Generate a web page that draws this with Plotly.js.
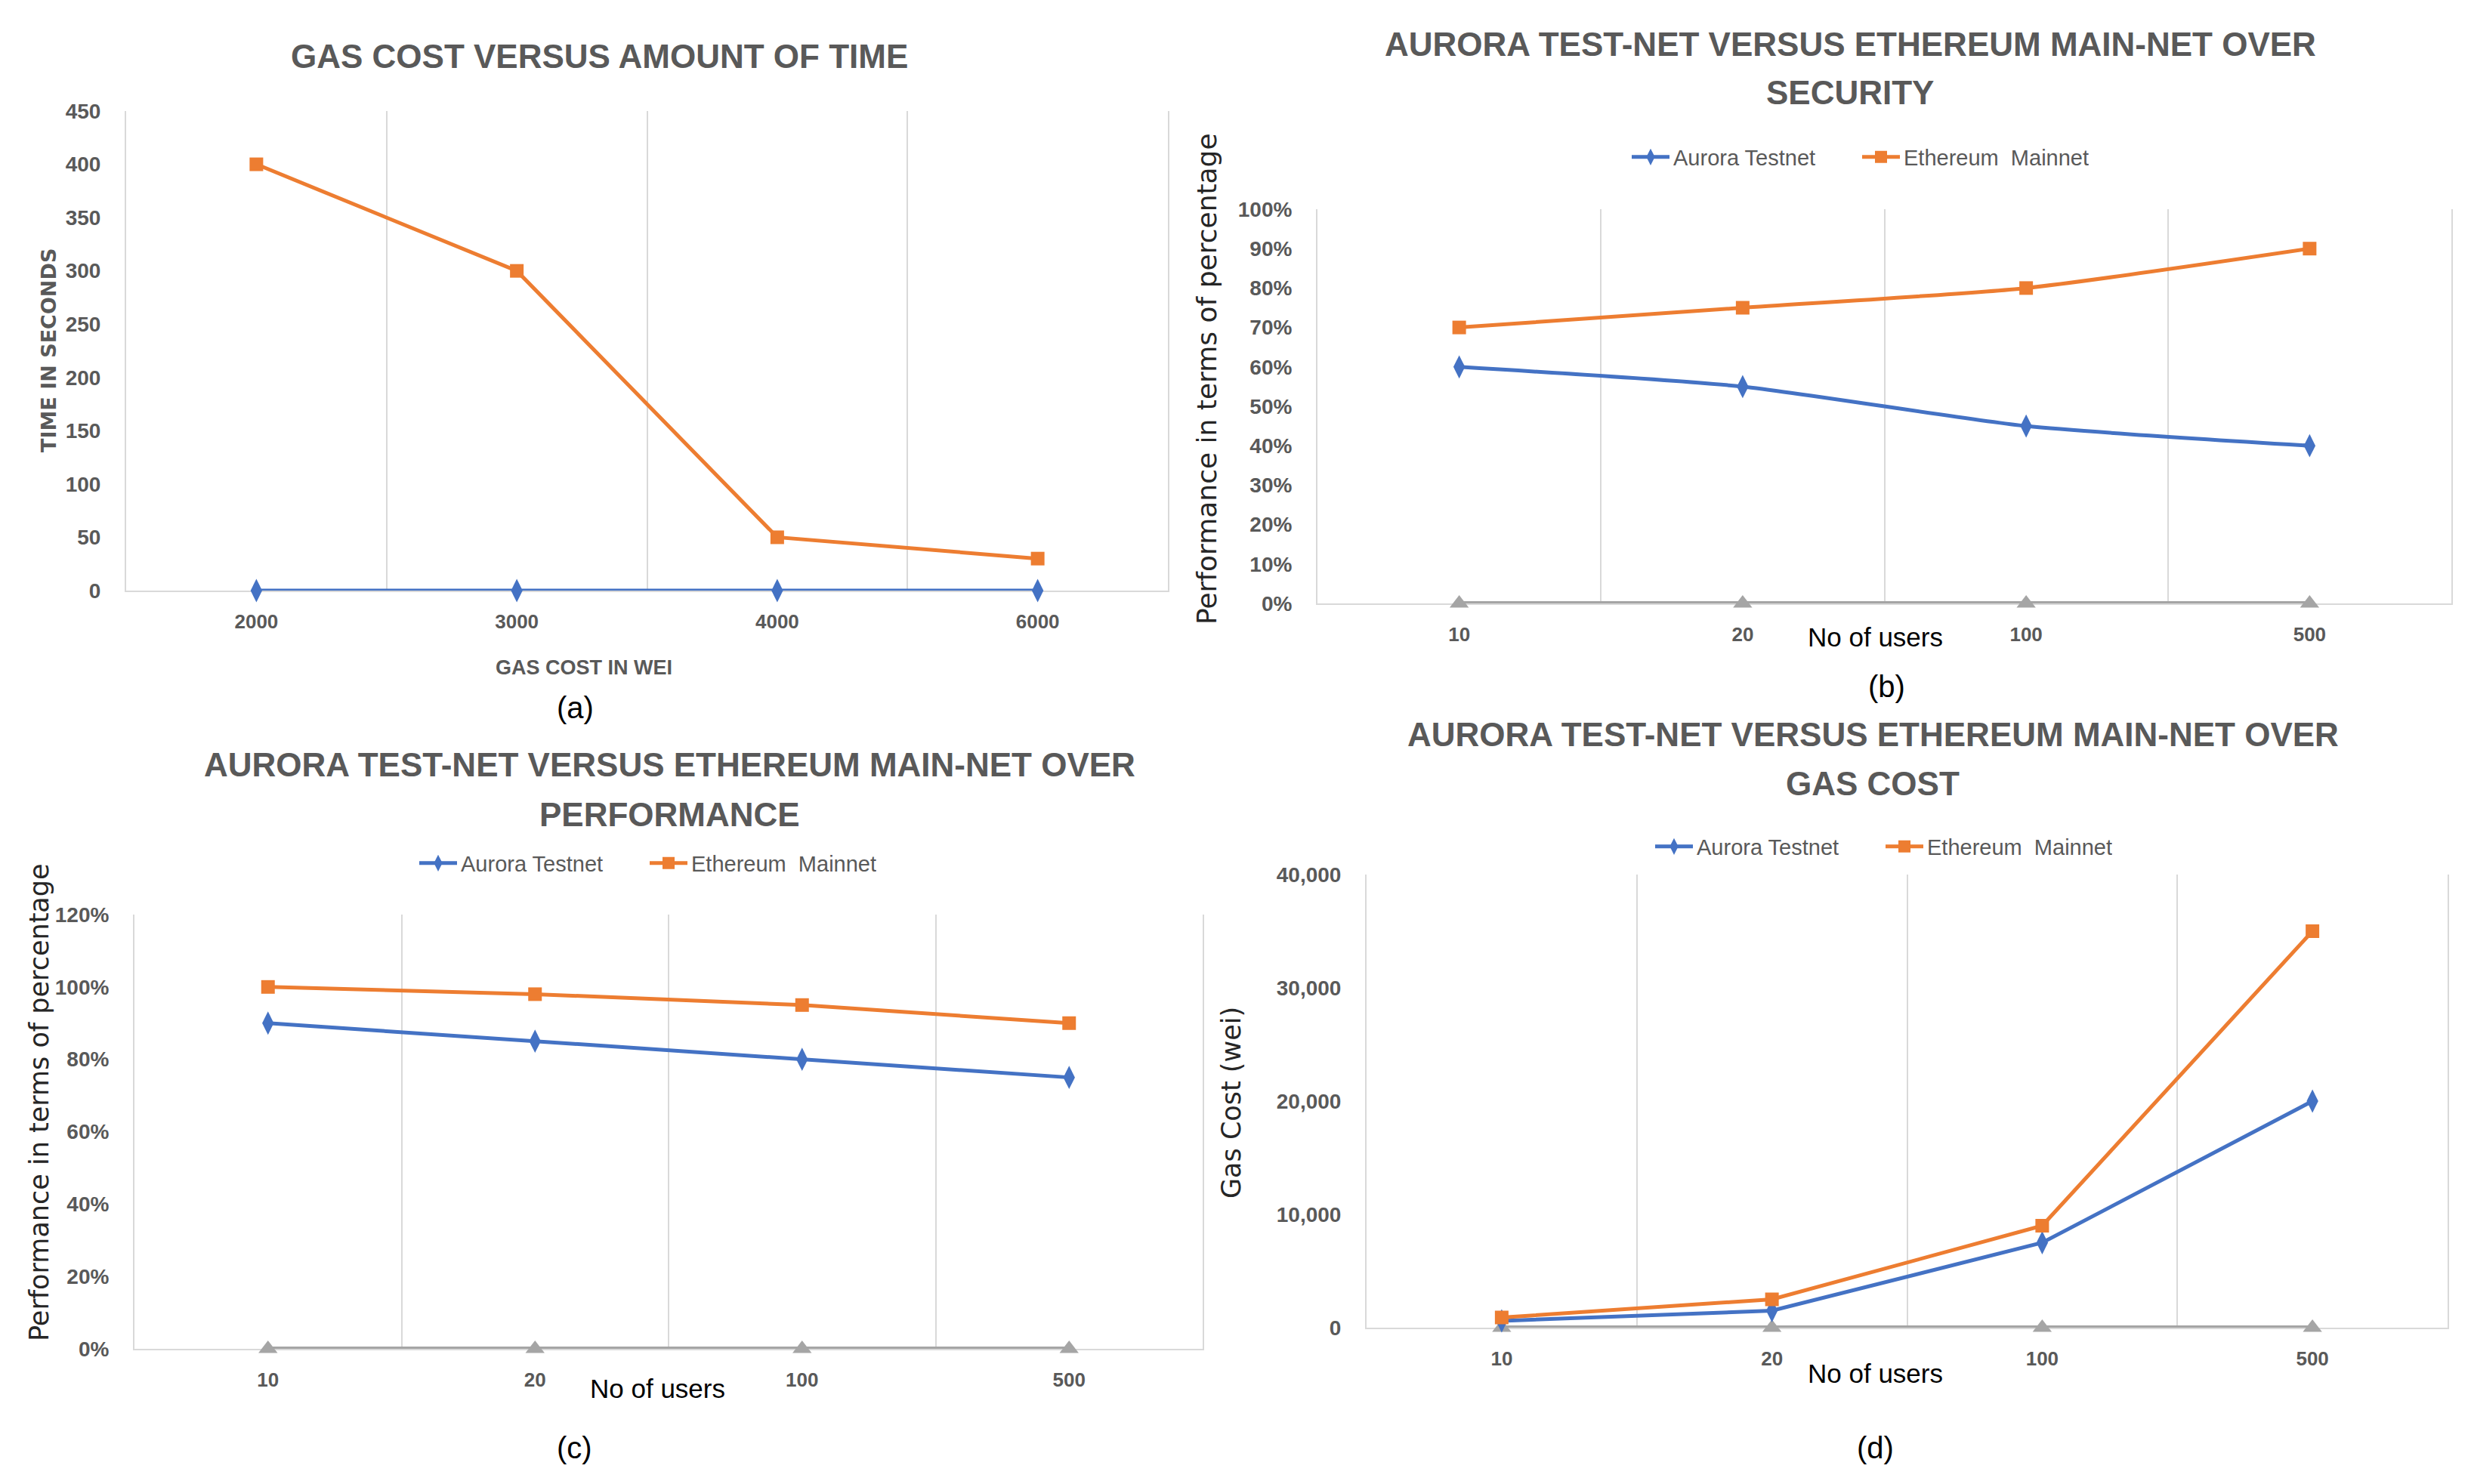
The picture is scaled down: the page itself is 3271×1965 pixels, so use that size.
<!DOCTYPE html>
<html><head><meta charset="utf-8">
<script src="https://cdn.plot.ly/plotly-3.0.1.min.js"></script>
<style>html,body{margin:0;padding:0;background:#fff}</style>
</head><body>
<div id="chart" style="width:3271px;height:1965px"></div>
<script>
// ---------- data ----------
const gasCostCategories = ['2000', '3000', '4000', '6000'];
const timeAurora = [0, 0, 0, 0];
const timeEthereum = [400, 300, 50, 30];

const userCategories = ['10', '20', '100', '500'];
const securityAurora = [60, 55, 45, 40];
const securityEthereum = [70, 75, 80, 90];
const securityBaseline = [0, 0, 0, 0];

const performanceAurora = [90, 85, 80, 75];
const performanceEthereum = [100, 98, 95, 90];
const performanceBaseline = [0, 0, 0, 0];

const gasAurora = [600, 1500, 7500, 20000];
const gasEthereum = [900, 2500, 9000, 35000];
const gasBaseline = [0, 0, 0, 0];

const seriesNames = ['Aurora Testnet', 'Ethereum  Mainnet'];

// ---------- style ----------
const W = 3271, H = 1965;
const fx = p => p / W;
const fy = p => 1 - p / H;
const BLUE = '#4472C4', ORANGE = '#ED7D31', GREY = '#A5A5A5', GRID = '#D9D9D9', TXT = '#595959';
const SANS = 'Liberation Sans, Arial, sans-serif';
const VERD = 'DejaVu Sans, Verdana, sans-serif';

function blueTrace(x, y, xa, ya, lg, show, shape) {
  return {x: x, y: y, xaxis: xa, yaxis: ya, type: 'scatter', mode: 'lines+markers',
    name: seriesNames[0], legend: lg, showlegend: show, cliponaxis: false,
    line: {color: BLUE, width: 5, shape: shape || 'linear', smoothing: 0.6},
    marker: {symbol: 'diamond-tall', size: 22, color: BLUE}};
}
function orangeTrace(x, y, xa, ya, lg, show, shape) {
  return {x: x, y: y, xaxis: xa, yaxis: ya, type: 'scatter', mode: 'lines+markers',
    name: seriesNames[1], legend: lg, showlegend: show, cliponaxis: false,
    line: {color: ORANGE, width: 5, shape: shape || 'linear', smoothing: 0.6},
    marker: {symbol: 'square', size: 18, color: ORANGE}};
}
function greyTrace(x, y, xa, ya) {
  return {x: x, y: y, xaxis: xa, yaxis: ya, type: 'scatter', mode: 'lines+markers',
    name: 'Series3', showlegend: false, cliponaxis: false,
    line: {color: GREY, width: 6},
    marker: {symbol: 'triangle-up', size: 22, color: GREY}};
}

const traces = [
  blueTrace(gasCostCategories, timeAurora, 'x', 'y', 'legend', false),
  orangeTrace(gasCostCategories, timeEthereum, 'x', 'y', 'legend', false),

  greyTrace(userCategories, securityBaseline, 'x2', 'y2'),
  blueTrace(userCategories, securityAurora, 'x2', 'y2', 'legend', true, 'spline'),
  orangeTrace(userCategories, securityEthereum, 'x2', 'y2', 'legend', true, 'spline'),

  greyTrace(userCategories, performanceBaseline, 'x3', 'y3'),
  blueTrace(userCategories, performanceAurora, 'x3', 'y3', 'legend2', true),
  orangeTrace(userCategories, performanceEthereum, 'x3', 'y3', 'legend2', true),

  greyTrace(userCategories, gasBaseline, 'x4', 'y4'),
  blueTrace(userCategories, gasAurora, 'x4', 'y4', 'legend3', true),
  orangeTrace(userCategories, gasEthereum, 'x4', 'y4', 'legend3', true)
];

function xAxis(l, r, anchor) {
  return {domain: [fx(l), fx(r)], anchor: anchor, type: 'category', range: [-0.5, 3.5],
    showgrid: true, gridcolor: GRID, gridwidth: 2, tickson: 'boundaries', ticks: '',
    showline: true, linecolor: GRID, linewidth: 2, zeroline: false, fixedrange: true,
    layer: 'below traces', ticklabelstandoff: 17,
    tickfont: {family: SANS, size: 26, color: TXT, weight: 'bold'}};
}
function yAxis(b, t, anchor, range, dtick, extra) {
  return Object.assign({domain: [fy(b), fy(t)], anchor: anchor, range: range, dtick: dtick,
    showgrid: false, zeroline: false, showline: true, mirror: true, linecolor: GRID, linewidth: 2,
    ticks: '', ticklabelstandoff: 26, fixedrange: true, layer: 'below traces',
    tickfont: {family: SANS, size: 28, color: TXT, weight: 'bold'}}, extra || {});
}

function ann(text, x, y, font, extra) {
  return Object.assign({text: text, x: fx(x), y: fy(y), xref: 'paper', yref: 'paper',
    xanchor: 'center', yanchor: 'middle', showarrow: false, font: font}, extra || {});
}
const titleFont = {family: SANS, size: 44, color: TXT, weight: 'bold'};
const usersFont = {family: SANS, size: 35, color: '#000000'};
const tagFont = {family: SANS, size: 40, color: '#000000'};
const perfFont = {family: VERD, size: 36, color: '#262626'};

const annotations = [
  // titles
  ann('GAS COST VERSUS AMOUNT OF TIME', 793, 74, titleFont),
  ann('AURORA TEST-NET VERSUS ETHEREUM MAIN-NET OVER', 2449, 58, titleFont),
  ann('SECURITY', 2449, 123, titleFont),
  ann('AURORA TEST-NET VERSUS ETHEREUM MAIN-NET OVER', 886, 1012, titleFont),
  ann('PERFORMANCE', 886, 1078, titleFont),
  ann('AURORA TEST-NET VERSUS ETHEREUM MAIN-NET OVER', 2479, 972, titleFont),
  ann('GAS COST', 2479, 1037, titleFont),
  // axis titles
  ann('TIME IN SECONDS', 64, 464, {family: VERD, size: 27, color: TXT, weight: 'bold'}, {textangle: -90}),
  ann('GAS COST IN WEI', 773, 884, {family: SANS, size: 27, color: TXT, weight: 'bold'}),
  ann('Performance in terms of percentage', 1598, 502, perfFont, {textangle: -90}),
  ann('No of users', 2482, 843, usersFont),
  ann('Performance in terms of percentage', 52, 1460, Object.assign({}, perfFont, {size: 35}), {textangle: -90}),
  ann('No of users', 870, 1838, usersFont),
  ann('Gas Cost (wei)', 1630, 1460, Object.assign({}, perfFont, {size: 35}), {textangle: -90}),
  ann('No of users', 2482, 1818, usersFont),
  // panel tags
  ann('(a)', 761, 937, tagFont),
  ann('(b)', 2497, 909, tagFont),
  ann('(c)', 760, 1917, tagFont),
  ann('(d)', 2482, 1917, tagFont)
];

function legendAt(x, y) {
  return {x: fx(x), y: fy(y), xref: 'paper', yref: 'paper', xanchor: 'left', yanchor: 'middle',
    orientation: 'h', itemwidth: 50, entrywidth: 240, entrywidthmode: 'pixels', bgcolor: 'rgba(0,0,0,0)',
    font: {family: SANS, size: 29, color: TXT}, itemclick: false, itemdoubleclick: false};
}

const layout = {
  width: W, height: H, autosize: false,
  margin: {l: 0, r: 0, t: 0, b: 0, pad: 0},
  paper_bgcolor: '#ffffff', plot_bgcolor: '#ffffff',
  showlegend: true,
  xaxis: xAxis(167, 1546, 'y'),
  yaxis: yAxis(782, 147, 'x', [0, 450], 50),
  xaxis2: xAxis(1744, 3245, 'y2'),
  yaxis2: yAxis(799, 277, 'x2', [0, 100], 10, {ticksuffix: '%'}),
  xaxis3: xAxis(178, 1592, 'y3'),
  yaxis3: yAxis(1786, 1211, 'x3', [0, 120], 20, {ticksuffix: '%'}),
  xaxis4: xAxis(1809, 3240, 'y4'),
  yaxis4: yAxis(1758, 1158, 'x4', [0, 40000], 10000, {tickformat: ','}),
  legend: legendAt(2155, 208),
  legend2: legendAt(550, 1143),
  legend3: legendAt(2186, 1121),
  annotations: annotations
};

Plotly.newPlot('chart', traces, layout, {displayModeBar: false, staticPlot: true});
</script>
</body></html>
